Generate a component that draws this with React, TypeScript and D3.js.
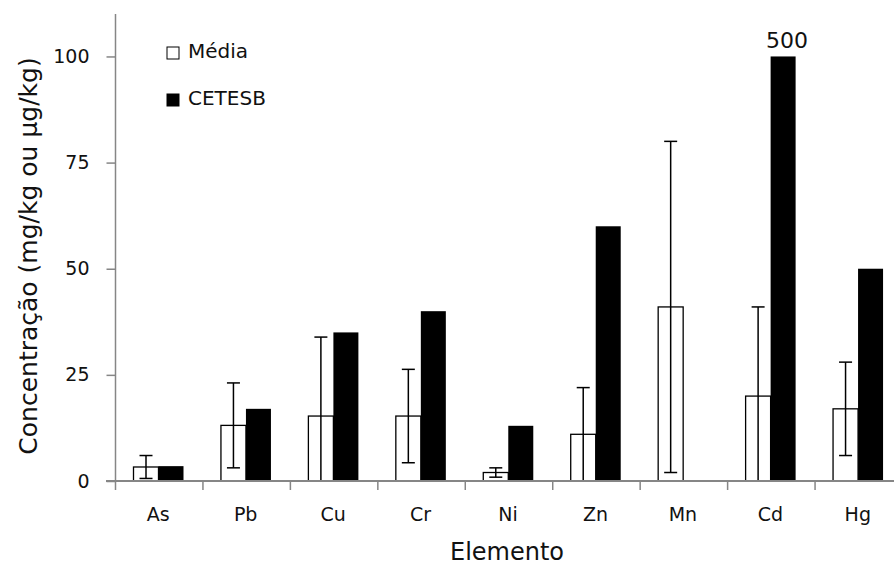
import * as d3 from 'd3';
import * as React from 'react';

// Elements on the x axis
const elementos = ['As', 'Pb', 'Cu', 'Cr', 'Ni', 'Zn', 'Mn', 'Cd', 'Hg'];
// Mean concentrations (white bars) and their standard deviations
const media = [3.3, 13.1, 15.3, 15.3, 2, 11, 41, 20, 17];
const desvio = [2.7, 10, 18.6, 11, 1.1, 11, 39, 21, 11];
// CETESB reference values (black bars); Cd goes off the scale
const cetesb = [3.5, 17, 35, 40, 13, 60, 0, 500, 50];
const yTicks = [0, 25, 50, 75, 100];
const yMaxShown = 100;

const W = 894;
const H = 566;
const FONT = '"DejaVu Sans", sans-serif';
const AXIS_GREY = '#868686';

export default function App() {
    const yAxisRef = React.useRef<SVGGElement | null>(null);

    const x = d3.scaleBand<string>()
        .domain(elementos)
        .range([115.5, 902.5])
        .padding(0);

    const y = d3.scaleLinear()
        .domain([0, 110])
        .range([481, 14]);

    const barW = 25;
    const offWhite = 18;
    const offBlack = offWhite + barW;
    const cap = 6.5;

    React.useEffect(() => {
        if (!yAxisRef.current) return;
        const g = d3.select(yAxisRef.current);
        g.selectAll('*').remove();
        g.call(d3.axisLeft(y).tickValues(yTicks).tickSize(9).tickPadding(17).tickFormat(d3.format('d')));
        g.select('.domain').remove();
        g.selectAll('.tick line').attr('stroke', AXIS_GREY).attr('stroke-width', 1.5);
        g.selectAll('.tick text')
            .attr('font-family', FONT)
            .attr('font-size', 19)
            .attr('fill', '#111');
    }, []);

    const boundaries = elementos.map(e => x(e) as number);

    return (
        <svg width={W} height={H} style={{ position: 'absolute', left: 0, top: 0, background: '#fff' }}>
            {/* bars */}
            {elementos.map((e, i) => {
                const x0 = x(e) as number;
                const m = media[i];
                const c = Math.min(cetesb[i], yMaxShown);
                const hi = m + desvio[i];
                const lo = Math.max(0, m - desvio[i]);
                const cx = x0 + offWhite + barW / 2;
                return (
                    <g key={e}>
                        <rect x={x0 + offWhite} y={y(m)} width={barW} height={y(0) - y(m)}
                            fill="#fff" stroke="#000" strokeWidth={1.3} />
                        {c > 0 && (
                            <rect x={x0 + offBlack} y={y(c)} width={barW} height={y(0) - y(c)} fill="#000" />
                        )}
                        <line x1={cx} x2={cx} y1={y(hi)} y2={y(lo)} stroke="#000" strokeWidth={1.5} />
                        <line x1={cx - cap} x2={cx + cap} y1={y(hi)} y2={y(hi)} stroke="#000" strokeWidth={1.5} />
                        {lo > 0 && (
                            <line x1={cx - cap} x2={cx + cap} y1={y(lo)} y2={y(lo)} stroke="#000" strokeWidth={1.5} />
                        )}
                        {cetesb[i] > yMaxShown && (
                            <text x={x0 + offBlack + barW / 2 + 4} y={y(c) - 8} textAnchor="middle"
                                fontFamily={FONT} fontSize={22} fill="#111">{cetesb[i]}</text>
                        )}
                        <text x={x0 + x.bandwidth() / 2 - 1} y={521} textAnchor="middle"
                            fontFamily={FONT} fontSize={19} fill="#111">{e}</text>
                    </g>
                );
            })}

            {/* y axis */}
            <line x1={115.5} x2={115.5} y1={y(110)} y2={y(0)} stroke={AXIS_GREY} strokeWidth={1.5} />
            <g ref={yAxisRef} transform="translate(115.5,0)" />

            {/* x axis */}
            <line x1={106} x2={W} y1={y(0)} y2={y(0)} stroke={AXIS_GREY} strokeWidth={2} />
            {boundaries.map((b, i) => (
                <line key={i} x1={b} x2={b} y1={y(0)} y2={y(0) + 9} stroke={AXIS_GREY} strokeWidth={1.5} />
            ))}

            {/* axis titles */}
            <text x={507} y={560} textAnchor="middle" fontFamily={FONT} fontSize={24} fill="#111">Elemento</text>
            <text transform="translate(37,256) rotate(-90)" textAnchor="middle" fontFamily={FONT}
                fontSize={25} fill="#111">Concentração (mg/kg ou µg/kg)</text>

            {/* legend */}
            <rect x={167} y={47} width={12} height={12} fill="#fff" stroke="#000" strokeWidth={1} />
            <text x={188} y={58} fontFamily={FONT} fontSize={20} fill="#111">Média</text>
            <rect x={166.5} y={93.5} width={13} height={13} fill="#000" />
            <text x={188} y={105} fontFamily={FONT} fontSize={20} fill="#111">CETESB</text>
        </svg>
    );
}
